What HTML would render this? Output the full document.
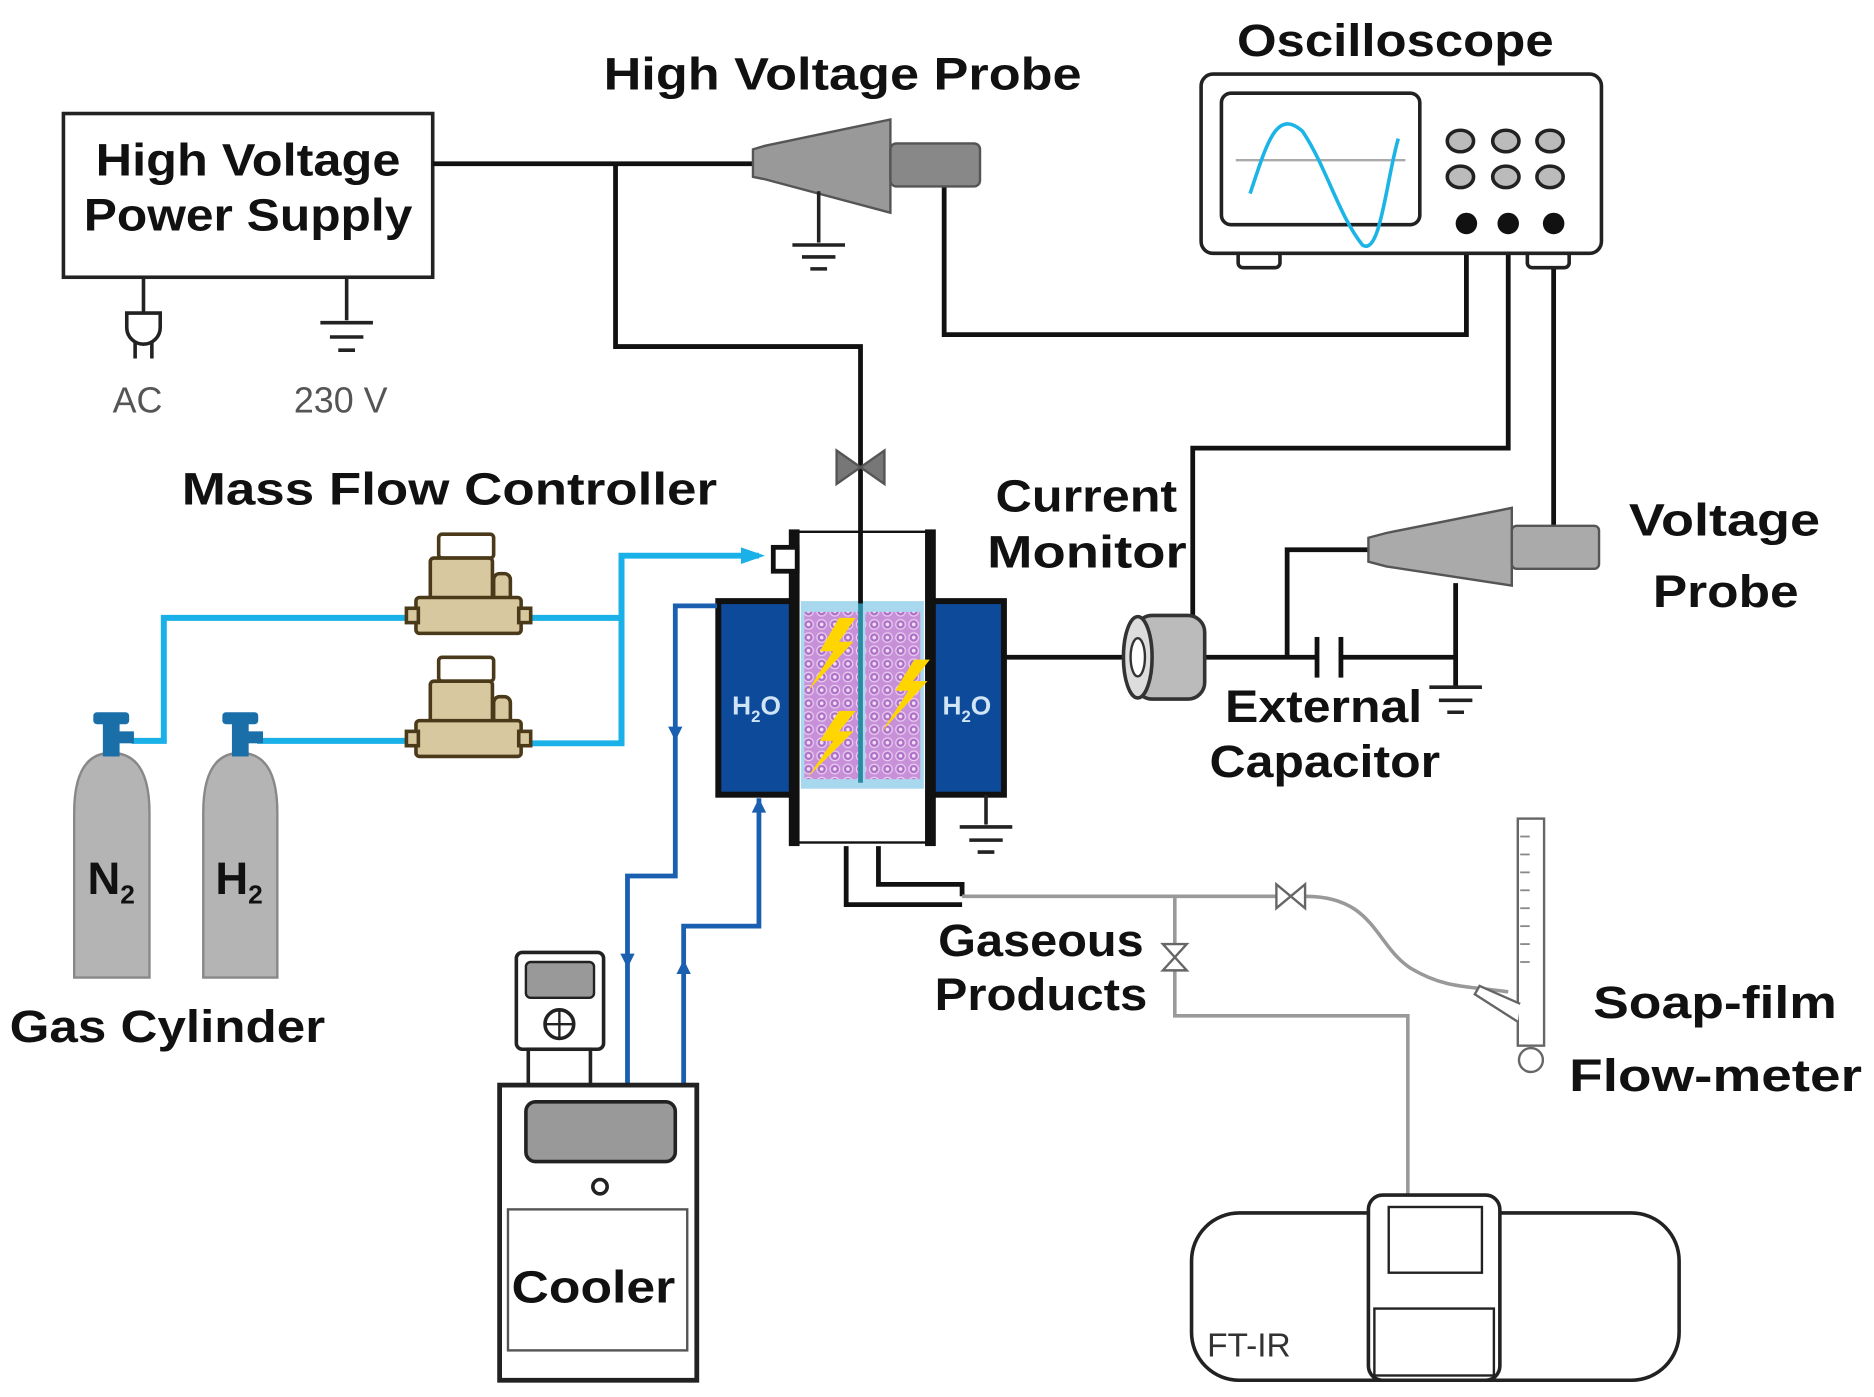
<!DOCTYPE html>
<html><head><meta charset="utf-8"><style>
html,body{margin:0;padding:0;background:#fff;}
svg{display:block;}
text{font-family:"Liberation Sans",sans-serif;}
.b{font-weight:bold;fill:#111;font-size:38px;}
</style></head><body>
<svg width="1874" height="1397" viewBox="0 0 1568 1169" xmlns="http://www.w3.org/2000/svg">
<defs>
<pattern id="sp" width="11" height="11" patternUnits="userSpaceOnUse">
<rect width="11" height="11" fill="#c890d8"/>
<circle cx="5.5" cy="5.5" r="4" fill="#b070c8" stroke="#e8d0f0" stroke-width="1"/>
<circle cx="5.5" cy="5.5" r="1.5" fill="#f0e0f8"/>
</pattern>
</defs>
<rect width="1568" height="1169" fill="#fff"/>

<!-- HV power supply -->
<rect x="53" y="95" width="309" height="137" fill="#fff" stroke="#222" stroke-width="3"/>
<text x="80" y="147" textLength="255" lengthAdjust="spacingAndGlyphs" class="b">High Voltage</text>
<text x="70" y="193" textLength="275" lengthAdjust="spacingAndGlyphs" class="b">Power Supply</text>
<g stroke="#222" stroke-width="3" fill="none">
<line x1="120" y1="232" x2="120" y2="262"/>
<path d="M106 262 h28 v12 a14 14 0 0 1 -28 0 z" fill="#fff"/>
<line x1="113" y1="286" x2="113" y2="300"/><line x1="127" y1="286" x2="127" y2="300"/>
<line x1="290" y1="232" x2="290" y2="268"/>
<line x1="268" y1="270" x2="312" y2="270"/><line x1="276" y1="282" x2="304" y2="282"/><line x1="283" y1="293" x2="297" y2="293"/>
</g>
<text x="115" y="345" text-anchor="middle" font-size="30" fill="#555">AC</text>
<text x="285" y="345" text-anchor="middle" font-size="30" fill="#555">230 V</text>

<!-- HV wires -->
<g stroke="#111" stroke-width="4" fill="none">
<polyline points="362,137 632,137"/>
<polyline points="515,137 515,290 720,290 720,505"/>
<polyline points="790,155 790,280 1227,280 1227,187"/>
<polyline points="1262,187 1262,375 998,375 998,520"/>
<polyline points="1300,187 1300,442"/>
</g>
<!-- HV probe -->
<text x="505" y="75" textLength="400" lengthAdjust="spacingAndGlyphs" class="b">High Voltage Probe</text>
<path d="M630 125 L640 122 L745 100 L745 178 L640 150 L630 148 Z" fill="#999" stroke="#555" stroke-width="2"/>
<rect x="745" y="120" width="75" height="36" rx="5" fill="#888" stroke="#555" stroke-width="2"/>
<g stroke="#222" stroke-width="3"><line x1="685" y1="160" x2="685" y2="203"/><line x1="663" y1="205" x2="707" y2="205"/><line x1="671" y1="215" x2="699" y2="215"/><line x1="678" y1="225" x2="692" y2="225"/></g>

<!-- Oscilloscope -->
<text x="1035" y="47" textLength="265" lengthAdjust="spacingAndGlyphs" class="b">Oscilloscope</text>
<rect x="1036" y="210" width="35" height="14" rx="4" fill="#fff" stroke="#222" stroke-width="3"/>
<rect x="1278" y="210" width="35" height="14" rx="4" fill="#fff" stroke="#222" stroke-width="3"/>
<rect x="1005" y="62" width="335" height="150" rx="10" fill="#fff" stroke="#222" stroke-width="3"/>
<rect x="1022" y="78" width="166" height="110" rx="8" fill="#fff" stroke="#222" stroke-width="3"/>
<line x1="1034" y1="134" x2="1176" y2="134" stroke="#aaa" stroke-width="2"/>
<path d="M1046 162 C1060 120 1068 90 1090 110 C1110 140 1120 180 1140 205 C1155 215 1160 150 1170 116" fill="none" stroke="#1ab4e6" stroke-width="3"/>
<g fill="#bbb" stroke="#222" stroke-width="3">
<ellipse cx="1222" cy="118" rx="11" ry="9"/><ellipse cx="1260" cy="118" rx="11" ry="9"/><ellipse cx="1297" cy="118" rx="11" ry="9"/>
<ellipse cx="1222" cy="148" rx="11" ry="9"/><ellipse cx="1260" cy="148" rx="11" ry="9"/><ellipse cx="1297" cy="148" rx="11" ry="9"/>
</g>
<g fill="#111"><circle cx="1227" cy="187" r="9"/><circle cx="1262" cy="187" r="9"/><circle cx="1300" cy="187" r="9"/></g>

<!-- valve on HV wire -->
<path d="M700 377 L740 405 L740 377 L700 405 Z" fill="#777" stroke="#555" stroke-width="2"/>

<!-- Mass Flow Controller -->
<text x="152" y="422" textLength="448" lengthAdjust="spacingAndGlyphs" class="b">Mass Flow Controller</text>
<g stroke="#1ab0e8" stroke-width="5" fill="none">
<polyline points="110,620 137,620 137,517 345,517"/>
<polyline points="440,517 520,517"/>
<polyline points="215,620 345,620"/>
<polyline points="440,622 520,622 520,465 635,465"/>
</g>
<path d="M620 458 L640 465 L620 472 Z" fill="#1ab0e8"/>
<g id="mfc" stroke="#4a3a1a" stroke-width="3" fill="#d8c8a0">
<rect x="367" y="447" width="46" height="20" rx="3" fill="#fff"/>
<rect x="360" y="467" width="52" height="48" rx="3"/>
<rect x="413" y="480" width="14" height="32" rx="5"/>
<rect x="348" y="500" width="88" height="30" rx="3"/>
<rect x="340" y="509" width="10" height="12"/><rect x="434" y="509" width="10" height="12"/>
</g>
<use href="#mfc" transform="translate(0,103)"/>

<!-- gas cylinders -->
<g fill="#b4b4b4" stroke="#888" stroke-width="2">
<path d="M62 680 Q62 630 93 630 Q125 630 125 680 L125 818 L62 818 Z"/>
<path d="M170 680 Q170 630 201 630 Q232 630 232 680 L232 818 L170 818 Z"/>
</g>
<g fill="#1a6fa8">
<rect x="86" y="605" width="14" height="28"/><rect x="78" y="596" width="30" height="10" rx="3"/><rect x="98" y="612" width="14" height="10"/>
<rect x="194" y="605" width="14" height="28"/><rect x="186" y="596" width="30" height="10" rx="3"/><rect x="206" y="612" width="14" height="10"/>
</g>
<text x="93" y="748" text-anchor="middle" class="b" font-size="34">N<tspan font-size="22" dy="8">2</tspan></text>
<text x="200" y="748" text-anchor="middle" class="b" font-size="34">H<tspan font-size="22" dy="8">2</tspan></text>
<text x="8" y="872" textLength="264" lengthAdjust="spacingAndGlyphs" class="b">Gas Cylinder</text>

<!-- Reactor -->
<rect x="601" y="503" width="64" height="162" fill="#0d4a9a" stroke="#111" stroke-width="5"/>
<rect x="778" y="503" width="62" height="162" fill="#0d4a9a" stroke="#111" stroke-width="5"/>
<rect x="665" y="445" width="113" height="260" fill="#fff" stroke="#111" stroke-width="2"/>
<rect x="670" y="503" width="103" height="157" fill="#a8d8ee"/>
<rect x="673" y="512" width="45" height="140" fill="url(#sp)"/>
<rect x="724" y="512" width="46" height="140" fill="url(#sp)"/>
<line x1="720" y1="505" x2="720" y2="655" stroke="#2a8aa0" stroke-width="4"/>
<line x1="720" y1="445" x2="720" y2="505" stroke="#111" stroke-width="4"/>
<rect x="660" y="443" width="9" height="265" fill="#111"/>
<rect x="774" y="443" width="9" height="265" fill="#111"/>
<rect x="647" y="458" width="20" height="20" fill="#fff" stroke="#111" stroke-width="4"/>
<g fill="#ffd500">
<path d="M702 517 L686 545 L697 545 L676 578 L714 537 L702 537 L716 517 Z"/>
<path d="M702 595 L686 620 L697 620 L676 650 L714 612 L702 612 L716 595 Z"/>
<path d="M765 552 L749 578 L760 578 L738 612 L776 570 L764 570 L778 552 Z"/>
</g>
<text x="633" y="598" text-anchor="middle" font-size="22" font-weight="bold" fill="#cfe4f5">H<tspan font-size="14" dy="6">2</tspan><tspan dy="-6">O</tspan></text>
<text x="809" y="598" text-anchor="middle" font-size="22" font-weight="bold" fill="#cfe4f5">H<tspan font-size="14" dy="6">2</tspan><tspan dy="-6">O</tspan></text>
<g stroke="#222" stroke-width="3"><line x1="825" y1="665" x2="825" y2="690"/><line x1="803" y1="692" x2="847" y2="692"/><line x1="811" y1="703" x2="839" y2="703"/><line x1="818" y1="713" x2="832" y2="713"/></g>

<!-- cooling lines -->
<g stroke="#1a5fb0" stroke-width="4" fill="none">
<polyline points="600,507 565,507 565,733 525,733 525,908"/>
<polyline points="572,908 572,775 635,775 635,668"/>
</g>
<g fill="#1a5fb0">
<path d="M559 608 L565 620 L571 608 Z"/><path d="M519 798 L525 810 L531 798 Z"/>
<path d="M566 815 L572 803 L578 815 Z"/><path d="M629 680 L635 668 L641 680 Z"/>
</g>

<!-- Cooler -->
<rect x="432" y="797" width="73" height="81" rx="5" fill="#fff" stroke="#222" stroke-width="3"/>
<rect x="440" y="805" width="57" height="30" rx="4" fill="#999" stroke="#222" stroke-width="2"/>
<circle cx="468" cy="857" r="12" fill="#fff" stroke="#222" stroke-width="3"/>
<line x1="456" y1="857" x2="480" y2="857" stroke="#222" stroke-width="2"/><line x1="468" y1="845" x2="468" y2="869" stroke="#222" stroke-width="2"/>
<rect x="442" y="878" width="52" height="30" fill="#fff" stroke="#222" stroke-width="3"/>
<rect x="418" y="908" width="165" height="247" fill="#fff" stroke="#222" stroke-width="4"/>
<rect x="440" y="922" width="125" height="50" rx="8" fill="#999" stroke="#222" stroke-width="3"/>
<circle cx="502" cy="993" r="6" fill="#fff" stroke="#222" stroke-width="3"/>
<rect x="425" y="1012" width="150" height="118" fill="#fff" stroke="#555" stroke-width="2"/>
<text x="428" y="1090" textLength="137" lengthAdjust="spacingAndGlyphs" class="b" font-size="42">Cooler</text>

<!-- Current monitor & voltage probe -->
<text x="833" y="428" textLength="152" lengthAdjust="spacingAndGlyphs" class="b">Current</text>
<text x="826" y="475" textLength="167" lengthAdjust="spacingAndGlyphs" class="b">Monitor</text>
<g stroke="#111" stroke-width="4" fill="none">
<line x1="840" y1="550" x2="945" y2="550"/>
<polyline points="1008,550 1102,550"/>
<polyline points="1122,550 1218,550"/>
<polyline points="1077,550 1077,460 1148,460"/>
<line x1="1218" y1="488" x2="1218" y2="575"/>
<line x1="1102" y1="533" x2="1102" y2="567"/><line x1="1122" y1="533" x2="1122" y2="567"/>
</g>
<g stroke="#222" stroke-width="3"><line x1="1196" y1="575" x2="1240" y2="575"/><line x1="1204" y1="586" x2="1232" y2="586"/><line x1="1211" y1="596" x2="1225" y2="596"/></g>
<rect x="950" y="515" width="58" height="70" rx="14" fill="#bbb" stroke="#333" stroke-width="3"/>
<ellipse cx="952" cy="550" rx="12" ry="34" fill="#ddd" stroke="#333" stroke-width="3"/>
<ellipse cx="952" cy="550" rx="6" ry="16" fill="#fff" stroke="#333" stroke-width="2"/>
<path d="M1145 450 L1160 446 L1265 425 L1265 490 L1160 474 L1145 470 Z" fill="#aaa" stroke="#555" stroke-width="2"/>
<rect x="1265" y="440" width="73" height="36" rx="4" fill="#aaa" stroke="#555" stroke-width="2"/>
<text x="1363" y="448" textLength="160" lengthAdjust="spacingAndGlyphs" class="b">Voltage</text>
<text x="1383" y="508" textLength="122" lengthAdjust="spacingAndGlyphs" class="b">Probe</text>
<text x="1025" y="604" textLength="165" lengthAdjust="spacingAndGlyphs" class="b">External</text>
<text x="1012" y="650" textLength="193" lengthAdjust="spacingAndGlyphs" class="b">Capacitor</text>

<!-- outlet -->
<g stroke="#111" stroke-width="4" fill="none">
<polyline points="708,708 708,757 805,757"/>
<polyline points="735,708 735,740 805,740 805,750"/>
</g>
<g stroke="#999" stroke-width="3" fill="none">
<line x1="805" y1="750" x2="1070" y2="750"/>
<path d="M1092 750 C1150 750 1150 790 1180 810 C1210 828 1230 825 1262 830"/>
<polyline points="983,750 983,850 1178,850 1178,1000"/>
</g>
<path d="M1068 740 L1092 760 L1092 740 L1068 760 Z" fill="#fff" stroke="#666" stroke-width="2"/>
<path d="M973 790 L993 812 L973 812 L993 790 Z" fill="#fff" stroke="#666" stroke-width="2"/>
<text x="785" y="800" textLength="172" lengthAdjust="spacingAndGlyphs" class="b">Gaseous</text>
<text x="782" y="845" textLength="178" lengthAdjust="spacingAndGlyphs" class="b">Products</text>

<!-- soap film -->
<rect x="1270" y="685" width="22" height="190" fill="#fff" stroke="#666" stroke-width="2"/>
<g stroke="#888" stroke-width="1.5">
<line x1="1272" y1="700" x2="1280" y2="700"/><line x1="1272" y1="715" x2="1280" y2="715"/><line x1="1272" y1="730" x2="1280" y2="730"/><line x1="1272" y1="745" x2="1280" y2="745"/><line x1="1272" y1="760" x2="1280" y2="760"/><line x1="1272" y1="775" x2="1280" y2="775"/><line x1="1272" y1="790" x2="1280" y2="790"/><line x1="1272" y1="805" x2="1280" y2="805"/>
</g>
<path d="M1272 840 L1238 825 L1234 832 L1270 855" fill="#fff" stroke="#666" stroke-width="2"/>
<circle cx="1281" cy="887" r="10" fill="#fff" stroke="#666" stroke-width="2"/>
<text x="1333" y="852" textLength="204" lengthAdjust="spacingAndGlyphs" class="b">Soap-film</text>
<text x="1313" y="913" textLength="245" lengthAdjust="spacingAndGlyphs" class="b">Flow-meter</text>

<!-- FT-IR -->
<rect x="997" y="1015" width="408" height="140" rx="40" fill="#fff" stroke="#222" stroke-width="3"/>
<rect x="1145" y="1000" width="110" height="155" rx="12" fill="#fff" stroke="#222" stroke-width="3"/>
<rect x="1162" y="1010" width="78" height="55" fill="#fff" stroke="#222" stroke-width="2"/>
<rect x="1150" y="1095" width="100" height="56" fill="#fff" stroke="#222" stroke-width="2"/>
<text x="1045" y="1135" text-anchor="middle" font-size="28" fill="#333">FT-IR</text>
</svg>
</body></html>
